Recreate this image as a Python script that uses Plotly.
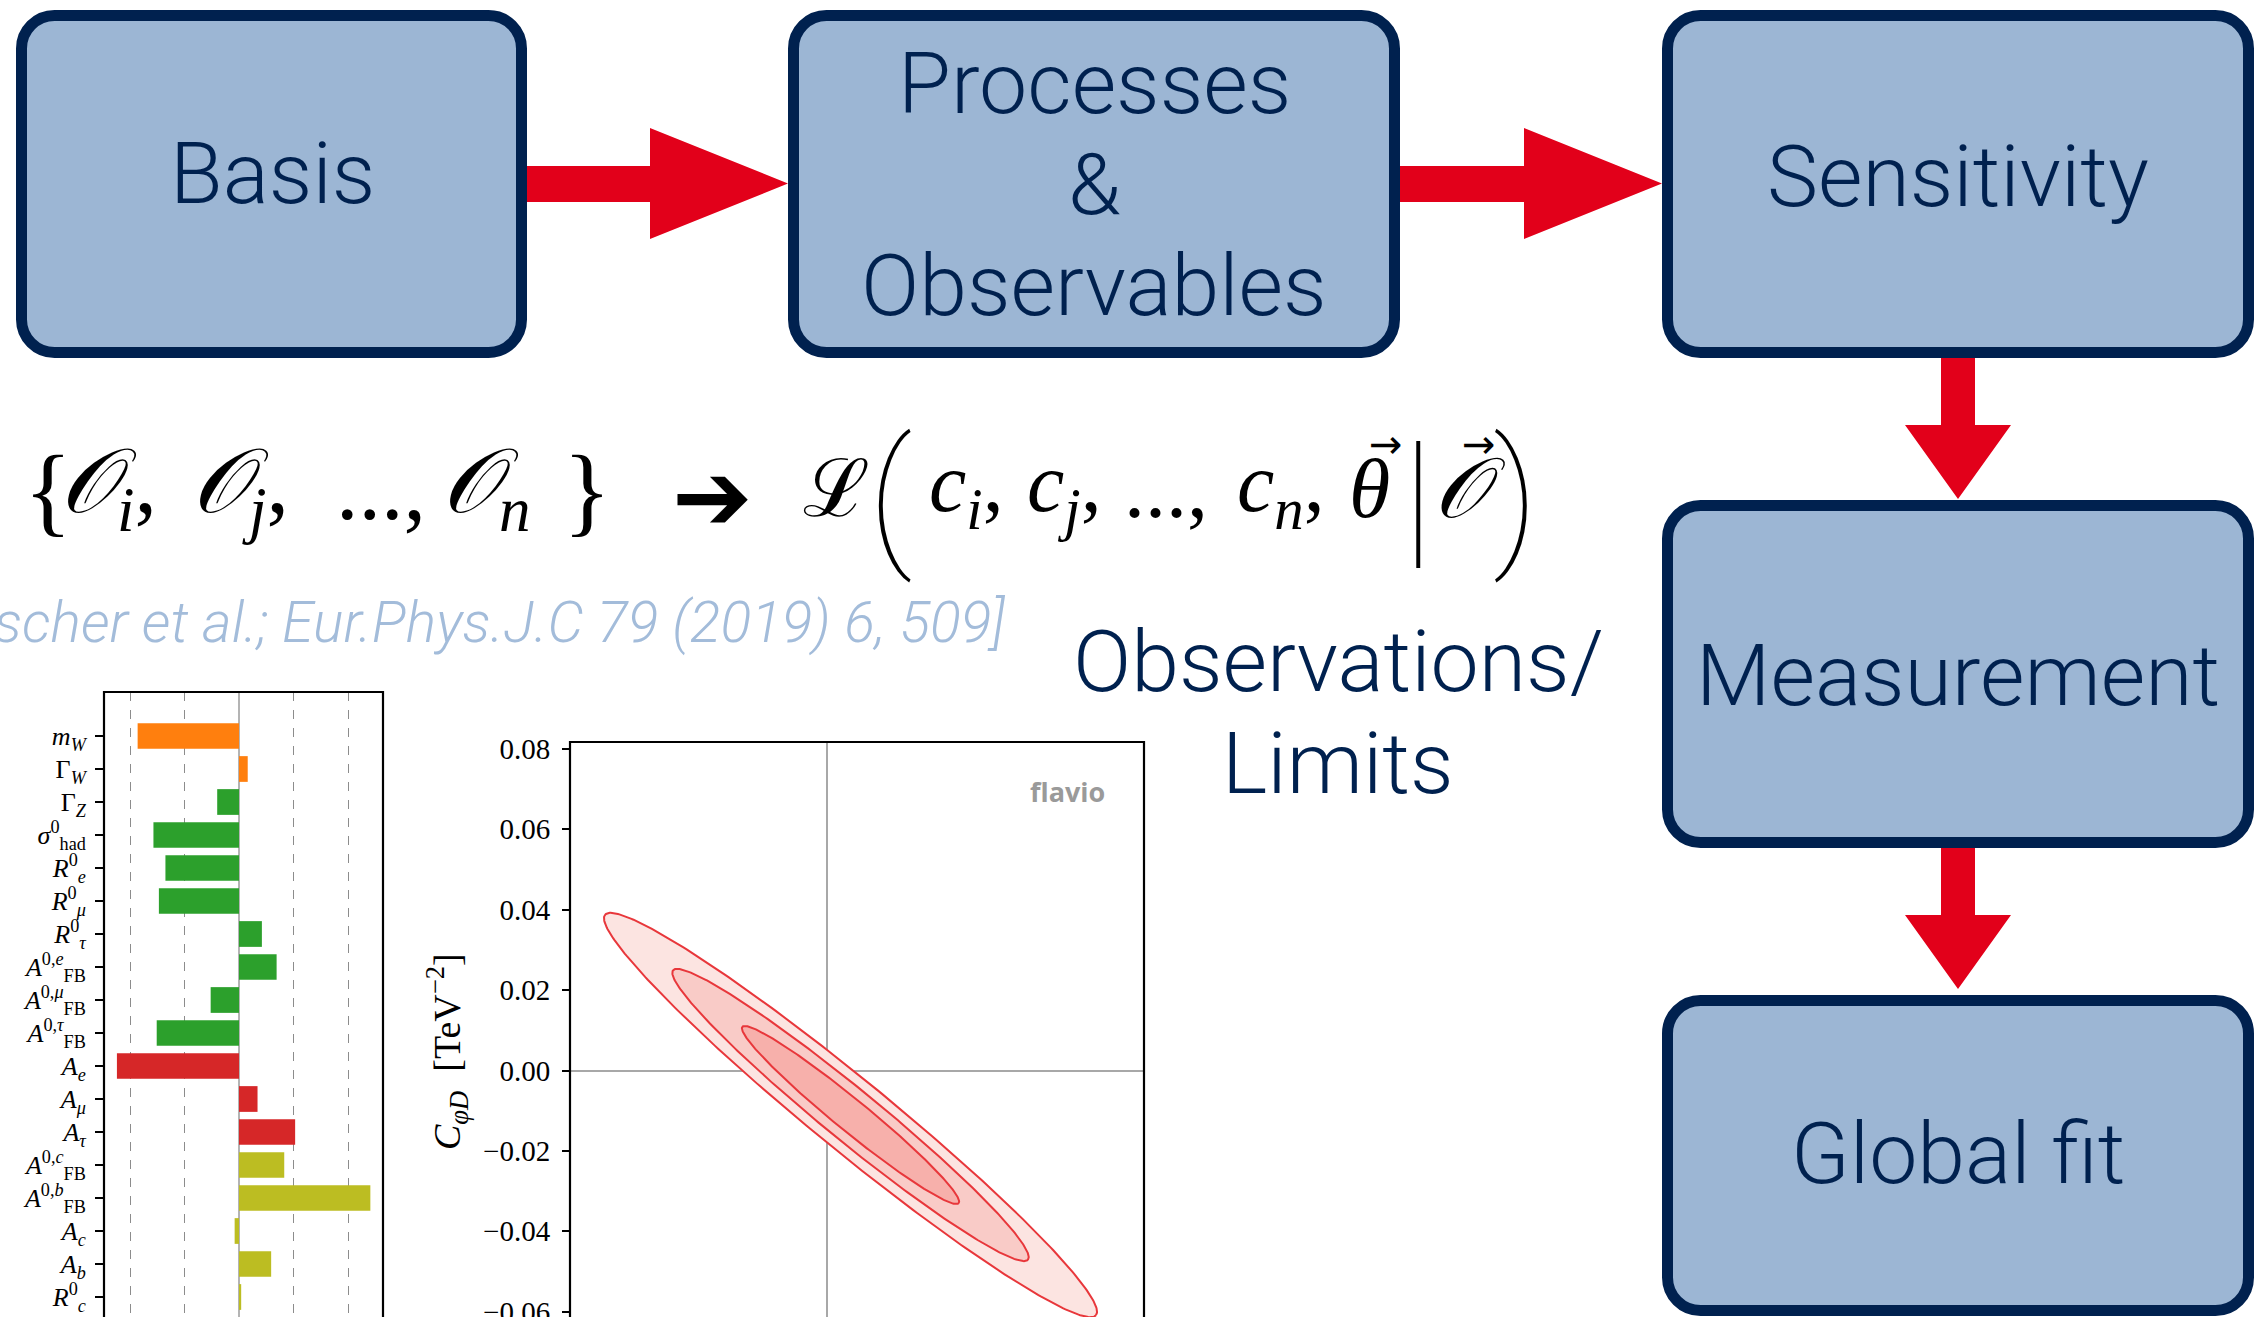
import numpy as np
import plotly.graph_objects as go

W, H = 2256, 1317

# ---------------------------------------------------------------- data
# flow-chart steps
step_labels = ["Basis", "Processes<br>&<br>Observables", "Sensitivity", "Measurement", "Global fit"]

# electroweak precision observables and their pulls (in sigma)
observables = [
    "<i>m</i><sub><i>W</i></sub>",
    "Γ<sub><i>W</i></sub>",
    "Γ<sub><i>Z</i></sub>",
    "<i>σ</i><sup>0</sup><sub>had</sub>",
    "<i>R</i><sup>0</sup><sub><i>e</i></sub>",
    "<i>R</i><sup>0</sup><sub><i>μ</i></sub>",
    "<i>R</i><sup>0</sup><sub><i>τ</i></sub>",
    "<i>A</i><sup>0,<i>e</i></sup><sub>FB</sub>",
    "<i>A</i><sup>0,<i>μ</i></sup><sub>FB</sub>",
    "<i>A</i><sup>0,<i>τ</i></sup><sub>FB</sub>",
    "<i>A</i><sub><i>e</i></sub>",
    "<i>A</i><sub><i>μ</i></sub>",
    "<i>A</i><sub><i>τ</i></sub>",
    "<i>A</i><sup>0,<i>c</i></sup><sub>FB</sub>",
    "<i>A</i><sup>0,<i>b</i></sup><sub>FB</sub>",
    "<i>A</i><sub><i>c</i></sub>",
    "<i>A</i><sub><i>b</i></sub>",
    "<i>R</i><sup>0</sup><sub><i>c</i></sub>",
    "<i>R</i><sup>0</sup><sub><i>b</i></sub>",
]
pulls = [-1.86, 0.16, -0.40, -1.57, -1.35, -1.47, 0.42, 0.69, -0.52, -1.51,
         -2.24, 0.34, 1.03, 0.83, 2.41, -0.08, 0.59, 0.04, -0.73]
groups = ["W"] * 2 + ["Z"] * 8 + ["asym"] * 3 + ["heavy"] * 6
pull_ticks = [-2, -1, 1, 2]

# two-parameter fit: best-fit point, principal widths, orientation
best_fit = (0.00585, -0.01107)
sigma_major, sigma_minor = 0.02291, 0.002625
tilt_deg = -39.2
delta_chi2 = [11.829, 6.180, 2.296]          # 3, 2, 1 sigma contours in 2D
cphid_ticks = [-0.06, -0.04, -0.02, 0.0, 0.02, 0.04, 0.06, 0.08]

# ---------------------------------------------------------------- styles
NAVY = "#00214f"
BOX_FILL = "#9cb6d4"
RED = "#e2001a"
group_colors = {"W": "#ff7f0e", "Z": "#2ca02c", "asym": "#d62728", "heavy": "#bcbd22"}
contour_fills = ["#fce4e1", "#f9cbc7", "#f7b0ab"]
SANS = "Roboto, Liberation Sans, sans-serif"
SERIF = "Liberation Serif, DejaVu Serif, serif"


def px(x):
    return x / W


def py(y):
    return 1 - y / H


def rounded_rect(x0, y0, x1, y1, r):
    k = 0.5523 * r
    pts = [
        f"M{px(x0 + r)},{py(y0)}", f"L{px(x1 - r)},{py(y0)}",
        f"C{px(x1 - r + k)},{py(y0)} {px(x1)},{py(y0 + r - k)} {px(x1)},{py(y0 + r)}",
        f"L{px(x1)},{py(y1 - r)}",
        f"C{px(x1)},{py(y1 - r + k)} {px(x1 - r + k)},{py(y1)} {px(x1 - r)},{py(y1)}",
        f"L{px(x0 + r)},{py(y1)}",
        f"C{px(x0 + r - k)},{py(y1)} {px(x0)},{py(y1 - r + k)} {px(x0)},{py(y1 - r)}",
        f"L{px(x0)},{py(y0 + r)}",
        f"C{px(x0)},{py(y0 + r - k)} {px(x0 + r - k)},{py(y0)} {px(x0 + r)},{py(y0)}", "Z",
    ]
    return " ".join(pts)


def polygon(points):
    return "M" + " L".join(f"{px(x)},{py(y)}" for x, y in points) + " Z"


fig = go.Figure()

# ---------------------------------------------------------------- pull bars
fig.add_trace(go.Bar(
    x=pulls, y=observables, orientation="h", width=0.78,
    marker=dict(color=[group_colors[g] for g in groups], line=dict(width=0)),
    xaxis="x", yaxis="y", hoverinfo="skip",
))

# ---------------------------------------------------------------- fit contours
theta = np.deg2rad(tilt_deg)
t = np.linspace(0, 2 * np.pi, 361)
for level, fill in zip(delta_chi2, contour_fills):
    r = np.sqrt(level)
    u = r * sigma_major * np.cos(t)
    v = r * sigma_minor * np.sin(t)
    cx = best_fit[0] + u * np.cos(theta) - v * np.sin(theta)
    cy = best_fit[1] + u * np.sin(theta) + v * np.cos(theta)
    fig.add_trace(go.Scatter(
        x=cx, y=cy, mode="lines", fill="toself", fillcolor=fill,
        line=dict(color="#e8373b", width=2), xaxis="x2", yaxis="y2", hoverinfo="skip",
    ))

# ---------------------------------------------------------------- axes
bar_top, bar_left, bar_right = 692, 104, 383
row0, row_step = 736, 33.0
ell_top, ell_left, ell_right = 742, 570, 1144
ell_zero_x, ell_zero_y, ell_scale = 827, 1070.5, 4020.0

fig.update_layout(
    width=W, height=H, margin=dict(l=0, r=0, t=0, b=0, autoexpand=False),
    paper_bgcolor="white", plot_bgcolor="rgba(0,0,0,0)", showlegend=False,
    xaxis=dict(
        domain=[px(bar_left), px(bar_right)], automargin=False,
        range=[(bar_left - 239) / 54.5, (bar_right - 239) / 54.5],
        tickvals=pull_ticks, showticklabels=False, ticks="",
        showgrid=True, griddash="dash", gridcolor="#8c8c8c", gridwidth=1,
        zeroline=True, zerolinecolor="#b4b4b4", zerolinewidth=1.6,
        layer="above traces", fixedrange=True,
    ),
    yaxis=dict(
        domain=[0, py(bar_top)], type="category", automargin=False,
        range=[(H - row0) / row_step, -(row0 - bar_top) / row_step],
        autorange=False, tickmode="array", tickvals=observables, ticktext=observables,
        ticks="outside", ticklen=8, tickwidth=1.6, tickcolor="black",
        tickfont=dict(family=SERIF, size=26, color="black"),
        ticklabelstandoff=4,
        showgrid=False, zeroline=False, fixedrange=True,
    ),
    xaxis2=dict(
        domain=[px(ell_left), px(ell_right)], anchor="y2", automargin=False,
        range=[(ell_left - ell_zero_x) / ell_scale, (ell_right - ell_zero_x) / ell_scale],
        showticklabels=False, ticks="", showgrid=False,
        zeroline=True, zerolinecolor="#a8a8a8", zerolinewidth=1.6,
        layer="above traces", fixedrange=True,
    ),
    yaxis2=dict(
        domain=[0, py(ell_top)], anchor="x2", automargin=False,
        range=[(ell_zero_y - H) / ell_scale, (ell_zero_y - ell_top) / ell_scale],
        tickvals=cphid_ticks, tickformat=".2f",
        ticks="outside", ticklen=7, tickwidth=1.6, tickcolor="black",
        tickfont=dict(family=SERIF, size=29, color="black"),
        ticklabelstandoff=6, ticklabeloverflow="allow",
        showgrid=False, zeroline=True, zerolinecolor="#a8a8a8", zerolinewidth=1.6,
        layer="above traces", fixedrange=True,
    ),
)

shapes = []
# plot frames (bottom edges run off the page)
for left, right, top in [(bar_left, bar_right, bar_top), (ell_left, ell_right, ell_top)]:
    shapes.append(dict(type="rect", xref="paper", yref="paper",
                       x0=px(left), x1=px(right), y0=-0.05, y1=py(top),
                       line=dict(color="black", width=2.2), fillcolor="rgba(0,0,0,0)"))

# flow-chart boxes (outer edges; border centred 5.5 px inside)
box_bounds = [(16, 10, 527, 358), (788, 10, 1400, 358), (1662, 10, 2254, 358),
              (1662, 500, 2254, 848), (1662, 995, 2254, 1316)]
for x0, y0, x1, y1 in box_bounds:
    shapes.append(dict(type="path", xref="paper", yref="paper",
                       path=rounded_rect(x0 + 5.5, y0 + 5.5, x1 - 5.5, y1 - 5.5, 33),
                       fillcolor=BOX_FILL, line=dict(color=NAVY, width=11)))

# red arrows between the steps
for xs, xe in [(527, 788), (1400, 1662)]:
    shapes.append(dict(type="path", xref="paper", yref="paper", fillcolor=RED,
                       line=dict(width=0),
                       path=polygon([(xs, 166), (xe - 138, 166), (xe - 138, 128), (xe, 183.5),
                                     (xe - 138, 239), (xe - 138, 202), (xs, 202)])))
for ys, ye in [(358, 499), (848, 989)]:
    shapes.append(dict(type="path", xref="paper", yref="paper", fillcolor=RED,
                       line=dict(width=0),
                       path=polygon([(1941, ys), (1975, ys), (1975, ye - 74), (2011, ye - 74),
                                     (1958, ye), (1905, ye - 74), (1941, ye - 74)])))
fig.update_layout(shapes=shapes)

# ---------------------------------------------------------------- texts
ann = []


def text(x, y, s, size, color=NAVY, family=SANS, weight=300, xanchor="center", angle=0,
         style="normal"):
    ann.append(dict(x=px(x), y=py(y), xref="paper", yref="paper", text=s, showarrow=False,
                    xanchor=xanchor, yanchor="middle", textangle=angle,
                    font=dict(family=family, size=size, color=color, weight=weight,
                              style=style)))


step_centres = [(272, 173), (1094, 83), (1958, 177), (1958, 675), (1958, 1153)]
for (cx, cy), label in zip(step_centres, step_labels):
    for i, line in enumerate(label.split("<br>")):
        text(cx, cy + 101 * i, line, 86)

text(1338, 661, "Observations/", 86)
text(1338, 763, "Limits", 86)

text(1007, 623, "scher et al.; Eur.Phys.J.C 79 (2019) 6, 509]", 57,
     color="#a3bcda", weight=300, xanchor="right", style="italic")

# likelihood expression
MATH = "Liberation Serif, DejaVu Serif, serif"
BLACK = "black"
text(22, 490, "{", 100, color=BLACK, family=MATH, weight=400, xanchor="left")
for s, x in [("<i>𝒪</i><sub><i>i</i></sub>,", 58), ("<i>𝒪</i><sub><i>j</i></sub>,", 190),
             ("...,", 334), ("<i>𝒪</i><sub><i>n</i></sub>", 440)]:
    text(x, 489, s, 90, color=BLACK, family=MATH, weight=400, xanchor="left")
text(561, 490, "}", 100, color=BLACK, family=MATH, weight=400, xanchor="left")

text(712, 497, "➔", 96, color=BLACK, family="DejaVu Sans", weight=400)
text(836, 489, "ℒ", 80, color=BLACK, family=MATH, weight=400)
text(890, 497, "(", 150, color=BLACK, family="Roboto", weight=100)
for s, x in [("<i>c</i><sub><i>i</i></sub>,", 927), ("<i>c</i><sub><i>j</i></sub>,", 1025),
             ("...,", 1122), ("<i>c</i><sub><i>n</i></sub>,", 1235), ("<i>θ</i>", 1347),
             ("<i>𝒪</i>", 1432)]:
    text(x, 489, s, 84, color=BLACK, family=MATH, weight=400, xanchor="left")
text(1386, 444, "→", 40, color=BLACK, family="DejaVu Sans", weight=400)
text(1479, 444, "→", 40, color=BLACK, family="DejaVu Sans", weight=400)
text(1418, 497, "|", 150, color=BLACK, family="Roboto", weight=100)
text(1516, 497, ")", 150, color=BLACK, family="Roboto", weight=100)

# plot decorations
text(1067, 791, "flavio", 27, color="#9a9a9a", family="Open Sans, sans-serif", weight=700)
text(447, 1052, "<i>C</i><sub><i>φD</i></sub>  [TeV<sup>−2</sup>]", 38, color=BLACK,
     family=SERIF, weight=400, angle=-90)

fig.update_layout(annotations=ann)
fig.write_html("out.html")
